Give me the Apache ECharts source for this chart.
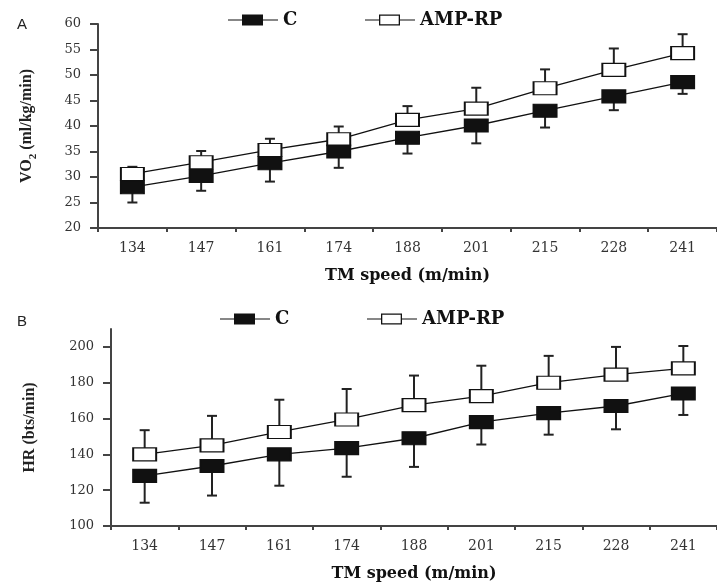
<!DOCTYPE html>
<html>
<head>
<meta charset="utf-8">
<script src="https://cdn.jsdelivr.net/npm/echarts@6/dist/echarts.min.js"></script>
<style>
html,body{margin:0;padding:0;background:#fff}
#main{width:717px;height:583px}
</style>
</head>
<body>
<div id="main"></div>
<script>
// TM speed categories (m/min)
var speeds = ['134', '147', '161', '174', '188', '201', '215', '228', '241'];

// panel A : VO2 (ml/kg/min), mean and SD (C drawn down, AMP-RP drawn up)
var vo2C = [28.0, 30.2, 32.7, 35.0, 37.7, 40.1, 43.0, 45.8, 48.6];
var vo2CSd = [3.0, 2.9, 3.6, 3.2, 3.1, 3.5, 3.3, 2.7, 2.3];
var vo2Amp = [30.6, 32.9, 35.3, 37.4, 41.2, 43.4, 47.4, 51.0, 54.3];
var vo2AmpSd = [1.4, 2.2, 2.2, 2.5, 2.7, 4.1, 3.7, 4.2, 3.7];

// panel B : HR (bts/min)
var hrC = [128, 133.5, 140, 143.5, 149, 158, 163, 167, 174];
var hrCSd = [15, 16.5, 17.5, 16, 16, 12.5, 12, 13, 12];
var hrAmp = [140, 145, 152.5, 159.5, 167.5, 172.5, 180, 184.5, 188];
var hrAmpSd = [13.5, 16.5, 18, 17, 16.5, 17, 15, 15.5, 12.5];

var vo2Ticks = [20, 25, 30, 35, 40, 45, 50, 55, 60];
var hrTicks = [100, 120, 140, 160, 180, 200];

var chart = echarts.init(document.getElementById('main'));

var serif = 'DejaVu Serif';
var iconC = 'path://M0,4.9L14,4.9L14,0L35,0L35,4.9L50,4.9L50,6.1L35,6.1L35,11L14,11L14,6.1L0,6.1Z';
var iconAmp = iconC + 'M15.3,1.3L15.3,9.7L33.7,9.7L33.7,1.3Z';

function errData(mean, sd, sign) {
  return mean.map(function (m, i) { return [i, m, m + sign * sd[i]]; });
}

function renderErr(params, api) {
  var p = api.coord([api.value(0), api.value(1)]);
  var e = api.coord([api.value(0), api.value(2)]);
  var st = { stroke: '#222', lineWidth: 2 };
  return {
    type: 'group',
    children: [
      { type: 'line', shape: { x1: p[0], y1: p[1], x2: e[0], y2: e[1] }, style: st },
      { type: 'line', shape: { x1: e[0] - 5, y1: e[1], x2: e[0] + 5, y2: e[1] }, style: st }
    ]
  };
}

function xAxis(idx) {
  return {
    gridIndex: idx,
    type: 'category',
    data: speeds,
    boundaryGap: true,
    name: 'TM speed (m/min)',
    nameLocation: 'middle',
    nameGap: 40,
    nameTextStyle: { fontFamily: serif, fontWeight: 'bold', fontSize: 16, color: '#111' },
    axisLine: { lineStyle: { color: '#444', width: 2 } },
    axisTick: { show: true, length: 4, lineStyle: { color: '#444', width: 2 } },
    axisLabel: { margin: 13, fontFamily: serif, fontSize: 14, color: '#333' }
  };
}

function yAxis(idx, min, max, ticks, name, gap) {
  return {
    gridIndex: idx,
    type: 'value',
    min: min,
    max: max,
    name: name,
    nameLocation: 'middle',
    nameGap: gap,
    nameRotate: 90,
    nameTextStyle: {
      fontFamily: 'Liberation Serif', fontWeight: 'bold', fontSize: 16, color: '#222',
      rich: { sub: { fontFamily: 'Liberation Serif', fontWeight: 'bold', fontSize: 11, verticalAlign: 'bottom', padding: [0, 0, -4, 0] } }
    },
    splitLine: { show: false },
    axisLine: { show: true, lineStyle: { color: '#444', width: 2 } },
    axisTick: { show: true, length: 8, customValues: ticks, lineStyle: { color: '#444', width: 2 } },
    axisLabel: { margin: 17, customValues: ticks, fontFamily: serif, fontSize: 13, color: '#333' }
  };
}

function lineSeries(name, data, idx, fill, z) {
  return {
    name: name,
    type: 'line',
    xAxisIndex: idx,
    yAxisIndex: idx,
    data: data,
    symbol: 'rect',
    symbolSize: [23, 13],
    z: z,
    lineStyle: { color: '#111', width: 1.3 },
    itemStyle: { color: fill, borderColor: '#111', borderWidth: 1.5 },
    emphasis: { disabled: true }
  };
}

function errSeries(data, idx) {
  return {
    type: 'custom',
    xAxisIndex: idx,
    yAxisIndex: idx,
    data: data,
    z: 1,
    encode: { x: 0, y: [1, 2] },
    renderItem: renderErr
  };
}

var legendText = { fontFamily: serif, fontWeight: 'bold', fontSize: 18, color: '#111' };
function legend(name, icon, left, top) {
  return {
    data: [{ name: name, icon: icon, itemStyle: { color: '#111', borderWidth: 0 } }],
    left: left,
    top: top,
    itemWidth: 50,
    itemHeight: 11,
    selectedMode: false,
    textStyle: legendText
  };
}

chart.setOption({
  animation: false,
  title: [
    { text: 'A', left: 12, top: 12, textStyle: { fontFamily: 'Liberation Sans', fontSize: 15, fontWeight: 'normal', color: '#222' } },
    { text: 'B', left: 12, top: 309, textStyle: { fontFamily: 'Liberation Sans', fontSize: 15, fontWeight: 'normal', color: '#222' } }
  ],
  legend: [
    legend('C', iconC, 223, 6),
    legend('AMP-RP', iconAmp, 360, 6),
    legend('C', iconC, 215, 305),
    legend('AMP-RP', iconAmp, 362, 305)
  ],
  grid: [
    { left: 98, top: 24, right: -7, height: 204 },
    { left: 111, top: 329, right: -5, height: 200 }
  ],
  xAxis: [xAxis(0), xAxis(1)],
  yAxis: [
    yAxis(0, 20, 60, vo2Ticks, 'VO{sub|2} (ml/kg/min)', 63),
    yAxis(1, 100, 210, hrTicks, 'HR (bts/min)', 73)
  ],
  series: [
    errSeries(errData(vo2Amp, vo2AmpSd, 1), 0),
    errSeries(errData(vo2C, vo2CSd, -1), 0),
    lineSeries('AMP-RP', vo2Amp, 0, '#fff', 2),
    lineSeries('C', vo2C, 0, '#111', 3),
    errSeries(errData(hrAmp, hrAmpSd, 1), 1),
    errSeries(errData(hrC, hrCSd, -1), 1),
    lineSeries('AMP-RP', hrAmp, 1, '#fff', 2),
    lineSeries('C', hrC, 1, '#111', 3)
  ]
});
</script>
</body>
</html>
